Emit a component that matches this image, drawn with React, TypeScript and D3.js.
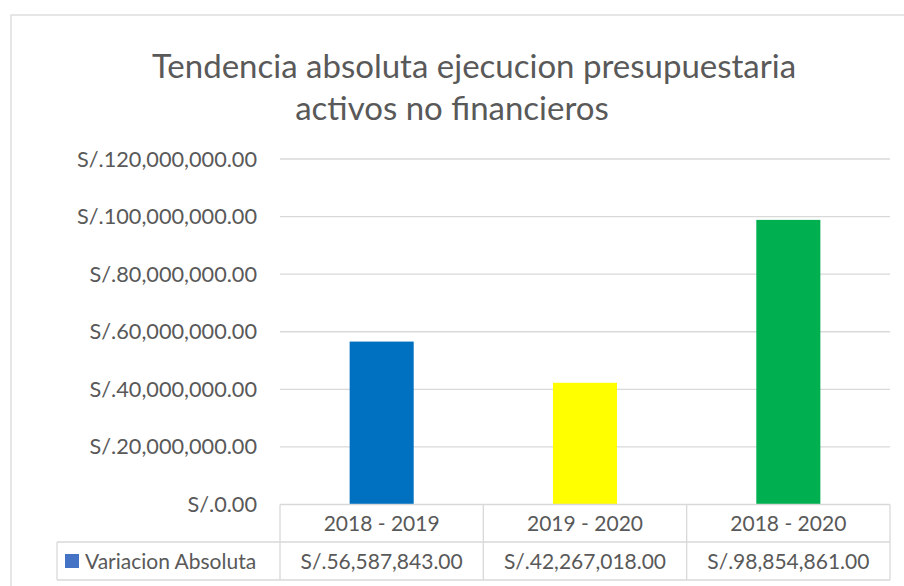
import React from "react";
import * as d3 from "d3";

const categories = ["2018 - 2019", "2019 - 2020", "2018 - 2020"];
const values = [56587843, 42267018, 98854861];
const barColors = ["#0070C0", "#FFFF00", "#00B050"];
const seriesName = "Variacion Absoluta";
const yTicks = [0, 20000000, 40000000, 60000000, 80000000, 100000000, 120000000];
const titleLines = ["Tendencia absoluta ejecucion presupuestaria", "activos no financieros"];

const W = 904;
const H = 586;
const FONT = "Lato, 'Open Sans', sans-serif";
const TEXT = "#595959";
const GRID = "#D9D9D9";

const fmt = (v: number) => "S/." + d3.format(",.2f")(v);

export default function App() {
  const plotLeft = 280;
  const plotRight = 890;
  const plotTop = 159;
  const plotBottom = 504.5;
  const row1Bottom = 542;
  const row2Bottom = 580;
  const legendLeft = 57;

  const x = d3.scaleBand<string>().domain(categories).range([plotLeft, plotRight]).padding(0);
  const y = d3.scaleLinear().domain([0, 120000000]).range([plotBottom, plotTop]);
  const barW = x.bandwidth() * 0.315;

  return (
    <div style={{ position: "absolute", left: 0, top: 0 }}>
      <svg width={W} height={H} style={{ display: "block", background: "#fff" }} fontFamily={FONT}>
        <rect x={11} y={15} width={W + 20} height={H + 20} fill="#fff" stroke={GRID} strokeWidth={1.3} />
        {titleLines.map((t, i) => (
          <text key={i} x={i === 0 ? 474 : 452} y={i === 0 ? 78 : 120} textAnchor="middle" fontSize={33} fill={TEXT}>
            {t}
          </text>
        ))}
        {yTicks.map((t) => (
          <g key={t}>
            {t > 0 && (
              <line x1={plotLeft} x2={plotRight} y1={y(t)} y2={y(t)} stroke={GRID} strokeWidth={1.3} />
            )}
            <text x={257} y={y(t) + 7.5} textAnchor="end" fontSize={21.7} fill={TEXT}>
              {fmt(t)}
            </text>
          </g>
        ))}
        {categories.map((c, i) => (
          <rect
            key={c}
            x={(x(c) as number) + (x.bandwidth() - barW) / 2}
            y={y(values[i])}
            width={barW}
            height={y(0) - y(values[i])}
            fill={barColors[i]}
          />
        ))}
        {/* data table */}
        <g stroke={GRID} strokeWidth={1.3} fill="none">
          <line x1={plotLeft} x2={plotRight} y1={plotBottom} y2={plotBottom} />
          <line x1={legendLeft} x2={plotRight} y1={row1Bottom} y2={row1Bottom} />
          <line x1={legendLeft} x2={plotRight} y1={row2Bottom} y2={row2Bottom} />
          <line x1={legendLeft} x2={legendLeft} y1={row1Bottom} y2={row2Bottom} />
          {categories.map((c) => (
            <line key={c} x1={x(c)} x2={x(c)} y1={plotBottom} y2={row2Bottom} />
          ))}
          <line x1={plotRight} x2={plotRight} y1={plotBottom} y2={row2Bottom} />
        </g>
        {categories.map((c, i) => (
          <g key={c}>
            <text
              x={(x(c) as number) + x.bandwidth() / 2}
              y={(plotBottom + row1Bottom) / 2 + 7.5}
              textAnchor="middle"
              fontSize={21}
              fill={TEXT}
            >
              {c}
            </text>
            <text
              x={(x(c) as number) + x.bandwidth() / 2}
              y={(row1Bottom + row2Bottom) / 2 + 7.5}
              textAnchor="middle"
              fontSize={21}
              fill={TEXT}
            >
              {fmt(values[i])}
            </text>
          </g>
        ))}
        <rect x={65} y={554} width={14} height={14} fill="#4472C4" />
        <text x={85} y={(row1Bottom + row2Bottom) / 2 + 7.5} fontSize={21} fill={TEXT}>
          {seriesName}
        </text>
      </svg>
    </div>
  );
}
